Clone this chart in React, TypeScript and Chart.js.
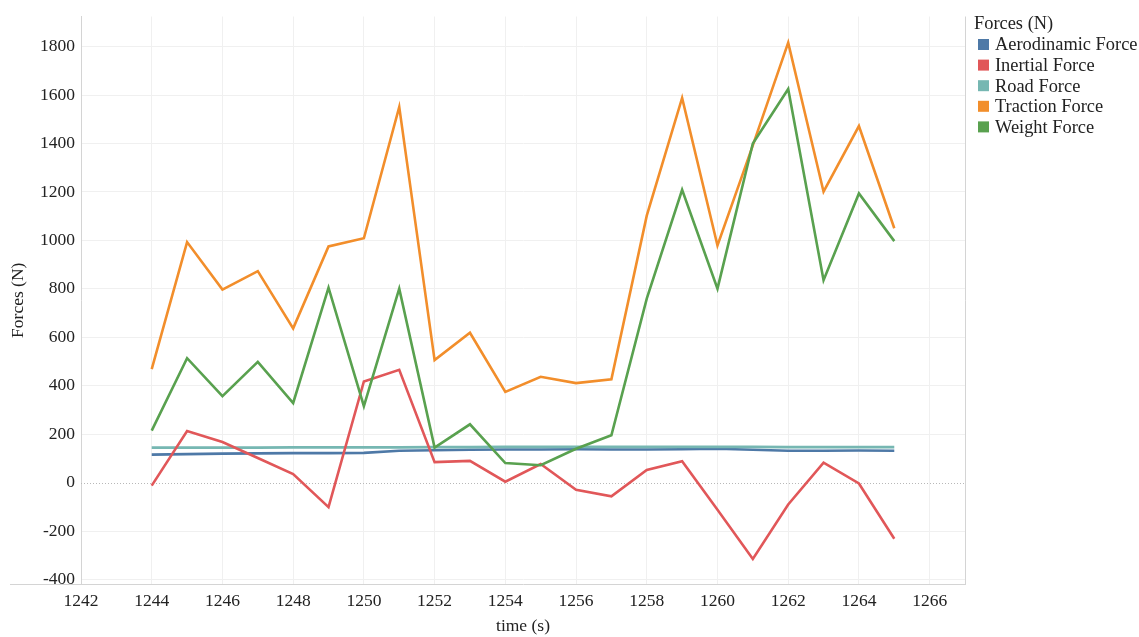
import React, { useEffect, useRef } from 'react';
import { Chart, registerables } from 'chart.js';

Chart.register(...registerables);

const times = [1244, 1245, 1246, 1247, 1248, 1249, 1250, 1251, 1252, 1253, 1254, 1255, 1256, 1257, 1258, 1259, 1260, 1261, 1262, 1263, 1264, 1265];
const aerodinamic = [116, 118, 120, 121, 122, 122, 123, 132, 134, 136, 137, 137, 138, 137, 137, 138, 140, 136, 132, 132, 133, 132];
const inertial = [-12, 213, 168, 102, 36, -101, 418, 466, 85, 90, 4, 77, -29, -56, 53, 89, -112, -315, -90, 83, -3, -231];
const road = [145, 145, 145, 145, 146, 146, 146, 146, 147, 147, 148, 148, 148, 148, 148, 148, 148, 148, 147, 147, 147, 147];
const traction = [469, 993, 797, 873, 637, 975, 1009, 1551, 506, 619, 375, 437, 411, 427, 1102, 1588, 979, 1392, 1816, 1201, 1472, 1050];
const weight = [215, 514, 357, 499, 329, 805, 316, 801, 145, 241, 81, 72, 140, 196, 760, 1209, 801, 1400, 1625, 836, 1194, 997];

const seriesNames = ['Aerodinamic Force', 'Inertial Force', 'Road Force', 'Traction Force', 'Weight Force'];
const seriesColors = ['#4e79a7', '#e15759', '#76b7b2', '#f28e2b', '#59a14f'];
const seriesValues = [aerodinamic, inertial, road, traction, weight];
const seriesOrder = [5, 3, 4, 2, 1];

const legendTitle = 'Forces (N)';
const xTitle = 'time (s)';
const yTitle = 'Forces (N)';
const xMin = 1242;
const xMax = 1267;
const yMin = -418;
const yMax = 1924;

const FONT = "'Liberation Serif', 'Times New Roman', serif";
const FS = 17.5;
const LEGEND_FS = 18.4;
const TEXT = '#222222';

const framePlugin = {
  id: 'frame',
  beforeDatasetsDraw(chart: any) {
    const { ctx, chartArea: a, scales } = chart;
    const y0 = Math.round(scales.y.getPixelForValue(0)) + 0.5;
    ctx.save();
    ctx.lineWidth = 1;
    ctx.strokeStyle = '#b8b8b8';
    ctx.setLineDash([1, 2]);
    ctx.beginPath();
    ctx.moveTo(a.left, y0);
    ctx.lineTo(a.right, y0);
    ctx.stroke();
    ctx.setLineDash([]);
    ctx.strokeStyle = '#d4d4d4';
    ctx.beginPath();
    ctx.moveTo(Math.round(a.right) + 0.5, a.top);
    ctx.lineTo(Math.round(a.right) + 0.5, a.bottom);
    ctx.stroke();
    ctx.beginPath();
    ctx.moveTo(10, Math.round(a.bottom) + 0.5);
    ctx.lineTo(a.left, Math.round(a.bottom) + 0.5);
    ctx.stroke();
    ctx.restore();
  },
};

const sideLegendPlugin = {
  id: 'sideLegend',
  afterDraw(chart: any) {
    const { ctx, chartArea: a } = chart;
    const x0 = a.right;
    ctx.save();
    ctx.font = `${LEGEND_FS}px ${FONT}`;
    ctx.textBaseline = 'middle';
    ctx.textAlign = 'left';
    ctx.fillStyle = TEXT;
    ctx.fillText(legendTitle, x0 + 9, 24);
    chart.data.datasets.forEach((ds: any, i: number) => {
      const cy = 44.5 + i * 20.6;
      ctx.fillStyle = ds.borderColor;
      ctx.fillRect(x0 + 13, cy - 5.5, 11, 11);
      ctx.fillStyle = TEXT;
      ctx.fillText(ds.label, x0 + 30, cy + 1);
    });
    ctx.restore();
  },
};

export default function App() {
  const canvasRef = useRef<HTMLCanvasElement | null>(null);

  useEffect(() => {
    if (!canvasRef.current) return;
    const datasets = seriesNames.map((name, i) => ({
      label: name,
      data: times.map((t, j) => ({ x: t, y: seriesValues[i][j] })),
      borderColor: seriesColors[i],
      backgroundColor: seriesColors[i],
      borderWidth: 2.6,
      pointRadius: 0,
      pointHoverRadius: 0,
      tension: 0,
      fill: false,
      order: seriesOrder[i],
    }));

    const chart = new Chart(canvasRef.current, {
      type: 'line',
      data: { datasets },
      options: {
        responsive: false,
        animation: false,
        layout: { padding: { top: 13, right: 174, left: 0, bottom: 0 } },
        plugins: {
          legend: { display: false },
          tooltip: { enabled: false },
        },
        scales: {
          x: {
            type: 'linear',
            min: xMin,
            max: xMax,
            afterFit(scale: any) {
              scale.height = 53;
            },
            ticks: {
              stepSize: 2,
              includeBounds: false,
              autoSkip: false,
              maxRotation: 0,
              padding: 7,
              color: TEXT,
              font: { family: FONT, size: FS },
              callback: (v: any) => String(v),
            },
            grid: { color: '#f0f0f0', drawTicks: false, lineWidth: 1 },
            border: { color: '#d4d4d4' },
            title: {
              display: true,
              text: xTitle,
              color: TEXT,
              font: { family: FONT, size: FS },
              padding: { top: 0, bottom: 0 },
            },
          },
          y: {
            type: 'linear',
            min: yMin,
            max: yMax,
            afterFit(scale: any) {
              scale.width = 81;
            },
            ticks: {
              stepSize: 200,
              includeBounds: false,
              padding: 6,
              color: TEXT,
              font: { family: FONT, size: FS },
              callback: (v: any) => String(v),
            },
            grid: {
              color: (c: any) => (c.tick && c.tick.value === 0 ? 'rgba(0,0,0,0)' : '#f0f0f0'),
              drawTicks: false,
              lineWidth: 1,
            },
            border: { color: '#d4d4d4' },
            title: {
              display: true,
              text: yTitle,
              color: TEXT,
              font: { family: FONT, size: FS },
              padding: { top: 8, bottom: 0 },
            },
          },
        },
      },
      plugins: [framePlugin, sideLegendPlugin],
    });
    return () => chart.destroy();
  }, []);

  return (
    <div style={{ position: 'fixed', left: 0, top: 0, width: 1139, height: 637, background: '#ffffff' }}>
      <canvas ref={canvasRef} width={1139} height={637} style={{ display: 'block' }} />
    </div>
  );
}
